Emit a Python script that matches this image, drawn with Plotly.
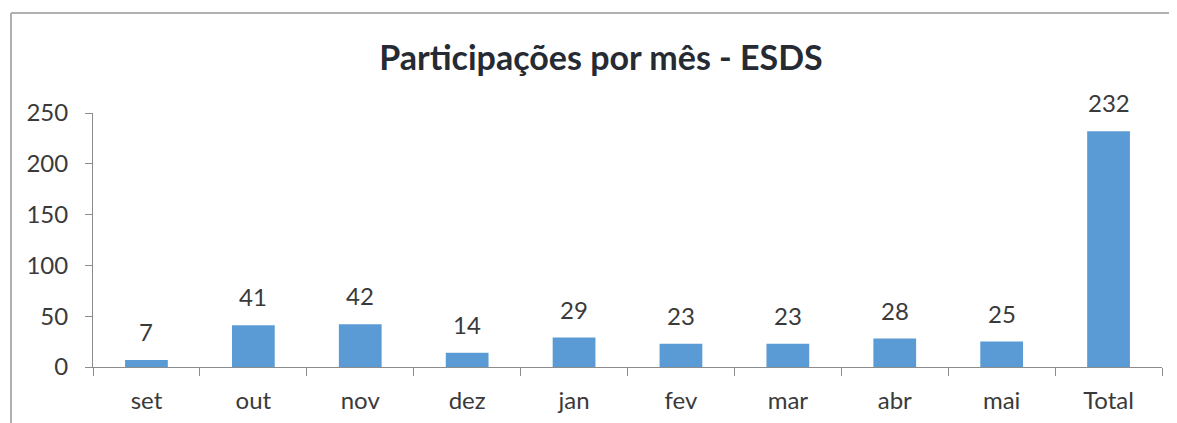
import plotly.graph_objects as go

categories = ["set", "out", "nov", "dez", "jan", "fev", "mar", "abr", "mai", "Total"]
values = [7, 41, 42, 14, 29, 23, 23, 28, 25, 232]
y_ticks = [0, 50, 100, 150, 200, 250]

FONT = "Lato"
TEXT = "#3a3a3a"
AXIS = "#8c8c8c"

fig = go.Figure()
fig.add_trace(go.Bar(x=categories, y=values, marker=dict(color="#5b9bd5", line=dict(width=0)),
                     hoverinfo="x+y"))

for c, v in zip(categories, values):
    fig.add_annotation(x=c, y=v, text=str(v), showarrow=False, yanchor="bottom",
                       yshift=12, font=dict(family=FONT, size=24, color=TEXT))

fig.update_layout(
    width=1177, height=423,
    margin=dict(l=85, r=23, t=105, b=64),
    paper_bgcolor="white", plot_bgcolor="white",
    showlegend=False, bargap=0.6,
    title=dict(text="<b>Participações por mês - ESDS</b>", x=593 / 1177, xanchor="center",
               y=1 - 50 / 423, yanchor="middle",
               font=dict(family=FONT, size=34, color="#262a33")),
    xaxis=dict(type="category", showgrid=False, showline=True, linecolor=AXIS, linewidth=1,
               ticks="outside", tickson="boundaries", ticklen=8, tickcolor=AXIS,
               ticklabelstandoff=12,
               tickfont=dict(family=FONT, size=24, color=TEXT), zeroline=False),
    yaxis=dict(range=[0, 250], tickvals=y_ticks, showgrid=False, showline=True,
               linecolor=AXIS, linewidth=1, ticks="outside", ticklen=7, tickcolor=AXIS,
               ticklabelstandoff=12,
               tickfont=dict(family=FONT, size=24, color=TEXT), zeroline=False),
    shapes=[
        dict(type="line", xref="paper", yref="paper", x0=-82 / 1069, x1=1.03, y0=1 + 100 / 254, y1=1 + 100 / 254,
             line=dict(color="#b0b0b0", width=2)),
        dict(type="line", xref="paper", yref="paper", x0=-82 / 1069, x1=-82 / 1069, y0=1 + 100 / 254, y1=-0.3,
             line=dict(color="#b0b0b0", width=2)),
    ],
)

fig.write_html("out.html")
